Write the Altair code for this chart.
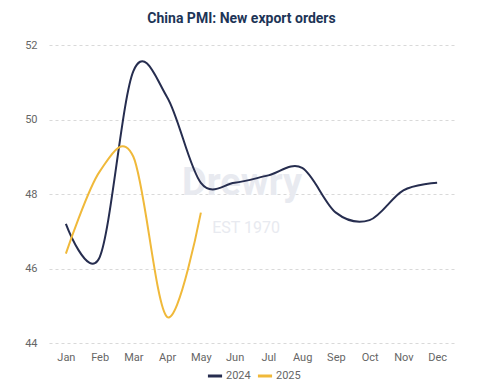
import altair as alt
import pandas as pd

months = ["Jan", "Feb", "Mar", "Apr", "May", "Jun", "Jul", "Aug", "Sep", "Oct", "Nov", "Dec"]
pmi_2024 = [47.2, 46.3, 51.3, 50.6, 48.3, 48.3, 48.5, 48.7, 47.5, 47.3, 48.1, 48.3]
pmi_2025 = [46.4, 48.6, 49.0, 44.7, 47.5]

rows = []
for m, v in zip(months, pmi_2024):
    rows.append({"month": m, "value": v, "year": "2024"})
for m, v in zip(months, pmi_2025):
    rows.append({"month": m, "value": v, "year": "2025"})
df = pd.DataFrame(rows)

lines = alt.Chart(df).mark_line(interpolate="cardinal", strokeWidth=2).encode(
    x=alt.X("month:N", sort=months, scale=alt.Scale(paddingOuter=0.5),
            axis=alt.Axis(title=None, labelAngle=0, domain=False, ticks=False,
                          labelPadding=8, labelColor="#666666", labelFontSize=11,
                          labelFont="Roboto")),
    y=alt.Y("value:Q", scale=alt.Scale(domain=[44, 52], nice=False, zero=False),
            axis=alt.Axis(title=None, values=[44, 46, 48, 50, 52], domain=False, ticks=False,
                          labelPadding=12, labelColor="#666666", labelFontSize=11,
                          labelFont="Roboto", gridDash=[3, 3], gridColor="#d9d9d9")),
    color=alt.Color("year:N", scale=alt.Scale(domain=["2024", "2025"], range=["#262d4f", "#f0b93a"]),
                    legend=alt.Legend(title=None, orient="none", direction="horizontal",
                                      legendX=157, legendY=322,
                                      symbolType="stroke", symbolStrokeWidth=3, symbolSize=200,
                                      labelFont="Roboto", labelFontSize=11, labelColor="#666666",
                                      columnPadding=0, labelOffset=2)),
)

wm1 = alt.Chart(pd.DataFrame({"t": ["Drewry"]})).mark_text(
    fontSize=38, font="Roboto", fontWeight="bold", color="#e8eaf0", baseline="alphabetic"
).encode(x=alt.value(193), y=alt.value(150), text="t:N")
wm2 = alt.Chart(pd.DataFrame({"t": ["EST 1970"]})).mark_text(
    fontSize=16, font="Roboto", color="#e8eaf0", baseline="alphabetic"
).encode(x=alt.value(197), y=alt.value(188), text="t:N")

chart = alt.layer(wm1, wm2, lines).properties(
    width=405, height=298,
    autosize=alt.AutoSizeParams(type="none"),
    padding={"left": 41, "top": 37, "right": 18, "bottom": 40},
    title=alt.TitleParams("China PMI: New export orders", fontSize=14, fontWeight="bold",
                          color="#1d3557", font="Roboto", anchor="middle", offset=13, dx=-10),
).configure_view(stroke=None)

chart.save("out.html", embed_options={"renderer": "svg", "actions": False})
